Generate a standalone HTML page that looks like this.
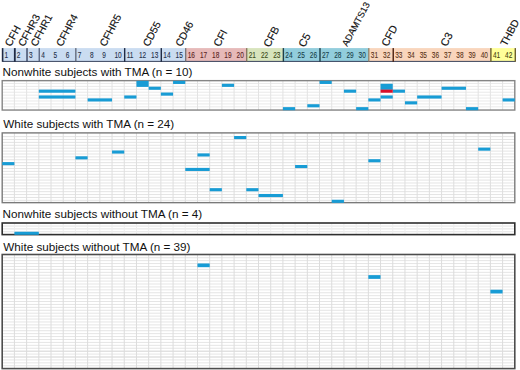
<!DOCTYPE html><html><head><meta charset="utf-8"><style>html,body{margin:0;padding:0;background:#fff;}svg{display:block;}text{font-family:"Liberation Sans",sans-serif;}</style></head><body>
<svg width="520" height="370" viewBox="0 0 520 370">
<rect x="0" y="0" width="520" height="370" fill="#fff"/>
<text class="lab" x="0" y="0" font-size="10.6" fill="#111" stroke="#111" stroke-width="0.15" transform="translate(10.8,47.3) rotate(-62)">CFH</text>
<text class="lab" x="0" y="0" font-size="10.4" fill="#111" stroke="#111" stroke-width="0.15" transform="translate(24.1,47.3) rotate(-62)">CFHR3</text>
<text class="lab" x="0" y="0" font-size="10.4" fill="#111" stroke="#111" stroke-width="0.15" transform="translate(36.4,47.2) rotate(-62)">CFHR1</text>
<text class="lab" x="0" y="0" font-size="10.4" fill="#111" stroke="#111" stroke-width="0.15" transform="translate(62.0,47.2) rotate(-62)">CFHR4</text>
<text class="lab" x="0" y="0" font-size="10.4" fill="#111" stroke="#111" stroke-width="0.15" transform="translate(105.4,47.2) rotate(-62)">CFHR5</text>
<text class="lab" x="0" y="0" font-size="10.4" fill="#111" stroke="#111" stroke-width="0.15" transform="translate(148.7,47.3) rotate(-62)">CD55</text>
<text class="lab" x="0" y="0" font-size="10.4" fill="#111" stroke="#111" stroke-width="0.15" transform="translate(181.3,47.3) rotate(-62)">CD46</text>
<text class="lab" x="0" y="0" font-size="10.8" fill="#111" stroke="#111" stroke-width="0.15" transform="translate(219.6,47.4) rotate(-62)">CFI</text>
<text class="lab" x="0" y="0" font-size="10.8" fill="#111" stroke="#111" stroke-width="0.15" transform="translate(269.5,47.9) rotate(-62)">CFB</text>
<text class="lab" x="0" y="0" font-size="10.8" fill="#111" stroke="#111" stroke-width="0.15" transform="translate(304.6,47.9) rotate(-62)">C5</text>
<text class="lab" x="0" y="0" font-size="9.2" fill="#111" stroke="#111" stroke-width="0.15" transform="translate(347.3,47.1) rotate(-62)">ADAMTS13</text>
<text class="lab" x="0" y="0" font-size="10.8" fill="#111" stroke="#111" stroke-width="0.15" transform="translate(387.4,47.2) rotate(-62)">CFD</text>
<text class="lab" x="0" y="0" font-size="10.8" fill="#111" stroke="#111" stroke-width="0.15" transform="translate(446.5,47.2) rotate(-62)">C3</text>
<text class="lab" x="0" y="0" font-size="10.4" fill="#111" stroke="#111" stroke-width="0.15" transform="translate(506.3,46.8) rotate(-62)">THBD</text>
<rect x="2.60" y="48.1" width="183.11" height="13.70" fill="#cadcf1"/>
<text x="0" y="0" font-size="8.6" fill="#25304a" stroke="#25304a" stroke-width="0.1" transform="translate(4.60,58.0) scale(0.76,1)">1</text>
<text x="0" y="0" font-size="8.6" fill="#25304a" stroke="#25304a" stroke-width="0.1" transform="translate(16.81,58.0) scale(0.76,1)">2</text>
<text x="0" y="0" font-size="8.6" fill="#25304a" stroke="#25304a" stroke-width="0.1" transform="translate(29.01,58.0) scale(0.76,1)">3</text>
<text x="0" y="0" font-size="8.6" fill="#25304a" stroke="#25304a" stroke-width="0.1" transform="translate(41.22,58.0) scale(0.76,1)">4</text>
<text x="0" y="0" font-size="8.6" fill="#25304a" stroke="#25304a" stroke-width="0.1" transform="translate(53.43,58.0) scale(0.76,1)">5</text>
<text x="0" y="0" font-size="8.6" fill="#25304a" stroke="#25304a" stroke-width="0.1" transform="translate(65.64,58.0) scale(0.76,1)">6</text>
<text x="0" y="0" font-size="8.6" fill="#25304a" stroke="#25304a" stroke-width="0.1" transform="translate(77.84,58.0) scale(0.76,1)">7</text>
<text x="0" y="0" font-size="8.6" fill="#25304a" stroke="#25304a" stroke-width="0.1" transform="translate(90.05,58.0) scale(0.76,1)">8</text>
<text x="0" y="0" font-size="8.6" fill="#25304a" stroke="#25304a" stroke-width="0.1" transform="translate(102.26,58.0) scale(0.76,1)">9</text>
<text x="0" y="0" font-size="8.6" fill="#25304a" stroke="#25304a" stroke-width="0.1" transform="translate(114.46,58.0) scale(0.76,1)">10</text>
<text x="0" y="0" font-size="8.6" fill="#25304a" stroke="#25304a" stroke-width="0.1" transform="translate(126.67,58.0) scale(0.76,1)">11</text>
<text x="0" y="0" font-size="8.6" fill="#25304a" stroke="#25304a" stroke-width="0.1" transform="translate(138.88,58.0) scale(0.76,1)">12</text>
<text x="0" y="0" font-size="8.6" fill="#25304a" stroke="#25304a" stroke-width="0.1" transform="translate(151.09,58.0) scale(0.76,1)">13</text>
<text x="0" y="0" font-size="8.6" fill="#25304a" stroke="#25304a" stroke-width="0.1" transform="translate(163.29,58.0) scale(0.76,1)">14</text>
<text x="0" y="0" font-size="8.6" fill="#25304a" stroke="#25304a" stroke-width="0.1" transform="translate(175.50,58.0) scale(0.76,1)">15</text>
<rect x="185.71" y="48.1" width="61.04" height="13.70" fill="#e6b9b8"/>
<text x="0" y="0" font-size="8.6" fill="#5a1f1f" stroke="#5a1f1f" stroke-width="0.1" transform="translate(187.71,58.0) scale(0.76,1)">16</text>
<text x="0" y="0" font-size="8.6" fill="#5a1f1f" stroke="#5a1f1f" stroke-width="0.1" transform="translate(199.91,58.0) scale(0.76,1)">17</text>
<text x="0" y="0" font-size="8.6" fill="#5a1f1f" stroke="#5a1f1f" stroke-width="0.1" transform="translate(212.12,58.0) scale(0.76,1)">18</text>
<text x="0" y="0" font-size="8.6" fill="#5a1f1f" stroke="#5a1f1f" stroke-width="0.1" transform="translate(224.33,58.0) scale(0.76,1)">19</text>
<text x="0" y="0" font-size="8.6" fill="#5a1f1f" stroke="#5a1f1f" stroke-width="0.1" transform="translate(236.54,58.0) scale(0.76,1)">20</text>
<rect x="246.74" y="48.1" width="36.62" height="13.70" fill="#d7e4bc"/>
<text x="0" y="0" font-size="8.6" fill="#3b4a17" stroke="#3b4a17" stroke-width="0.1" transform="translate(248.74,58.0) scale(0.76,1)">21</text>
<text x="0" y="0" font-size="8.6" fill="#3b4a17" stroke="#3b4a17" stroke-width="0.1" transform="translate(260.95,58.0) scale(0.76,1)">22</text>
<text x="0" y="0" font-size="8.6" fill="#3b4a17" stroke="#3b4a17" stroke-width="0.1" transform="translate(273.16,58.0) scale(0.76,1)">23</text>
<rect x="283.36" y="48.1" width="85.45" height="13.70" fill="#92cddc"/>
<text x="0" y="0" font-size="8.6" fill="#173f4a" stroke="#173f4a" stroke-width="0.1" transform="translate(285.36,58.0) scale(0.76,1)">24</text>
<text x="0" y="0" font-size="8.6" fill="#173f4a" stroke="#173f4a" stroke-width="0.1" transform="translate(297.57,58.0) scale(0.76,1)">25</text>
<text x="0" y="0" font-size="8.6" fill="#173f4a" stroke="#173f4a" stroke-width="0.1" transform="translate(309.78,58.0) scale(0.76,1)">26</text>
<text x="0" y="0" font-size="8.6" fill="#173f4a" stroke="#173f4a" stroke-width="0.1" transform="translate(321.99,58.0) scale(0.76,1)">27</text>
<text x="0" y="0" font-size="8.6" fill="#173f4a" stroke="#173f4a" stroke-width="0.1" transform="translate(334.19,58.0) scale(0.76,1)">28</text>
<text x="0" y="0" font-size="8.6" fill="#173f4a" stroke="#173f4a" stroke-width="0.1" transform="translate(346.40,58.0) scale(0.76,1)">29</text>
<text x="0" y="0" font-size="8.6" fill="#173f4a" stroke="#173f4a" stroke-width="0.1" transform="translate(358.61,58.0) scale(0.76,1)">30</text>
<rect x="368.81" y="48.1" width="122.07" height="13.70" fill="#f9d5bc"/>
<text x="0" y="0" font-size="8.6" fill="#5a3418" stroke="#5a3418" stroke-width="0.1" transform="translate(370.81,58.0) scale(0.76,1)">31</text>
<text x="0" y="0" font-size="8.6" fill="#5a3418" stroke="#5a3418" stroke-width="0.1" transform="translate(383.02,58.0) scale(0.76,1)">32</text>
<text x="0" y="0" font-size="8.6" fill="#5a3418" stroke="#5a3418" stroke-width="0.1" transform="translate(395.23,58.0) scale(0.76,1)">33</text>
<text x="0" y="0" font-size="8.6" fill="#5a3418" stroke="#5a3418" stroke-width="0.1" transform="translate(407.44,58.0) scale(0.76,1)">34</text>
<text x="0" y="0" font-size="8.6" fill="#5a3418" stroke="#5a3418" stroke-width="0.1" transform="translate(419.64,58.0) scale(0.76,1)">35</text>
<text x="0" y="0" font-size="8.6" fill="#5a3418" stroke="#5a3418" stroke-width="0.1" transform="translate(431.85,58.0) scale(0.76,1)">36</text>
<text x="0" y="0" font-size="8.6" fill="#5a3418" stroke="#5a3418" stroke-width="0.1" transform="translate(444.06,58.0) scale(0.76,1)">37</text>
<text x="0" y="0" font-size="8.6" fill="#5a3418" stroke="#5a3418" stroke-width="0.1" transform="translate(456.26,58.0) scale(0.76,1)">38</text>
<text x="0" y="0" font-size="8.6" fill="#5a3418" stroke="#5a3418" stroke-width="0.1" transform="translate(468.47,58.0) scale(0.76,1)">39</text>
<text x="0" y="0" font-size="8.6" fill="#5a3418" stroke="#5a3418" stroke-width="0.1" transform="translate(480.68,58.0) scale(0.76,1)">40</text>
<rect x="490.89" y="48.1" width="24.41" height="13.70" fill="#ffff99"/>
<text x="0" y="0" font-size="8.6" fill="#45450f" stroke="#45450f" stroke-width="0.1" transform="translate(492.89,58.0) scale(0.76,1)">41</text>
<text x="0" y="0" font-size="8.6" fill="#45450f" stroke="#45450f" stroke-width="0.1" transform="translate(505.09,58.0) scale(0.76,1)">42</text>
<rect x="2.60" y="60.90" width="512.70" height="1" fill="#3c4660"/>
<rect x="1.80" y="48.1" width="1.6" height="13.70" fill="#1f2a44"/>
<rect x="13.91" y="48.1" width="1.8" height="13.70" fill="#1f2a44"/>
<rect x="26.31" y="48.1" width="1.4" height="13.70" fill="#3a4662"/>
<rect x="38.62" y="48.1" width="1.2" height="13.70" fill="#4a5672"/>
<rect x="75.24" y="48.1" width="1.2" height="13.70" fill="#555b6a"/>
<rect x="123.97" y="48.1" width="1.4" height="13.70" fill="#1f2a44"/>
<rect x="160.59" y="48.1" width="1.4" height="13.70" fill="#1f2a44"/>
<rect x="185.11" y="48.1" width="1.2" height="13.70" fill="#6b6b6b"/>
<rect x="246.14" y="48.1" width="1.2" height="13.70" fill="#7a6a50"/>
<rect x="282.66" y="48.1" width="1.4" height="13.70" fill="#1f3f4a"/>
<rect x="319.29" y="48.1" width="1.4" height="13.70" fill="#1f3f4a"/>
<rect x="368.21" y="48.1" width="1.2" height="13.70" fill="#8a7a60"/>
<rect x="392.53" y="48.1" width="1.4" height="13.70" fill="#4a2010"/>
<rect x="490.19" y="48.1" width="1.4" height="13.70" fill="#6b6030"/>
<rect x="514.60" y="48.1" width="1.4" height="13.70" fill="#6b6030"/>
<text x="2.6" y="75.7" font-size="11.7" fill="#111">Nonwhite subjects with TMA (n = 10)</text>
<rect x="2.20" y="82.97" width="512.60" height="1" fill="#eaeaea"/>
<rect x="2.20" y="85.89" width="512.60" height="1" fill="#eaeaea"/>
<rect x="2.20" y="88.81" width="512.60" height="1" fill="#eaeaea"/>
<rect x="2.20" y="91.73" width="512.60" height="1" fill="#eaeaea"/>
<rect x="2.20" y="94.65" width="512.60" height="1" fill="#eaeaea"/>
<rect x="2.20" y="97.57" width="512.60" height="1" fill="#eaeaea"/>
<rect x="2.20" y="100.49" width="512.60" height="1" fill="#eaeaea"/>
<rect x="2.20" y="103.41" width="512.60" height="1" fill="#eaeaea"/>
<rect x="2.20" y="106.33" width="512.60" height="1" fill="#eaeaea"/>
<rect x="13.90" y="80.85" width="1" height="29.20" fill="#e3e3e3"/>
<rect x="26.11" y="80.85" width="1" height="29.20" fill="#e3e3e3"/>
<rect x="38.31" y="80.85" width="1" height="29.20" fill="#e3e3e3"/>
<rect x="50.52" y="80.85" width="1" height="29.20" fill="#e3e3e3"/>
<rect x="62.72" y="80.85" width="1" height="29.20" fill="#e3e3e3"/>
<rect x="74.93" y="80.85" width="1" height="29.20" fill="#e3e3e3"/>
<rect x="87.13" y="80.85" width="1" height="29.20" fill="#e3e3e3"/>
<rect x="99.34" y="80.85" width="1" height="29.20" fill="#e3e3e3"/>
<rect x="111.54" y="80.85" width="1" height="29.20" fill="#e3e3e3"/>
<rect x="123.75" y="80.85" width="1" height="29.20" fill="#e3e3e3"/>
<rect x="135.95" y="80.85" width="1" height="29.20" fill="#e3e3e3"/>
<rect x="148.16" y="80.85" width="1" height="29.20" fill="#e3e3e3"/>
<rect x="160.36" y="80.85" width="1" height="29.20" fill="#e3e3e3"/>
<rect x="172.57" y="80.85" width="1" height="29.20" fill="#e3e3e3"/>
<rect x="184.77" y="80.85" width="1" height="29.20" fill="#e3e3e3"/>
<rect x="196.98" y="80.85" width="1" height="29.20" fill="#e3e3e3"/>
<rect x="209.18" y="80.85" width="1" height="29.20" fill="#e3e3e3"/>
<rect x="221.39" y="80.85" width="1" height="29.20" fill="#e3e3e3"/>
<rect x="233.59" y="80.85" width="1" height="29.20" fill="#e3e3e3"/>
<rect x="245.80" y="80.85" width="1" height="29.20" fill="#e3e3e3"/>
<rect x="258.00" y="80.85" width="1" height="29.20" fill="#e3e3e3"/>
<rect x="270.20" y="80.85" width="1" height="29.20" fill="#e3e3e3"/>
<rect x="282.41" y="80.85" width="1" height="29.20" fill="#e3e3e3"/>
<rect x="294.61" y="80.85" width="1" height="29.20" fill="#e3e3e3"/>
<rect x="306.82" y="80.85" width="1" height="29.20" fill="#e3e3e3"/>
<rect x="319.02" y="80.85" width="1" height="29.20" fill="#e3e3e3"/>
<rect x="331.23" y="80.85" width="1" height="29.20" fill="#e3e3e3"/>
<rect x="343.43" y="80.85" width="1" height="29.20" fill="#e3e3e3"/>
<rect x="355.64" y="80.85" width="1" height="29.20" fill="#e3e3e3"/>
<rect x="367.84" y="80.85" width="1" height="29.20" fill="#e3e3e3"/>
<rect x="380.05" y="80.85" width="1" height="29.20" fill="#e3e3e3"/>
<rect x="392.25" y="80.85" width="1" height="29.20" fill="#e3e3e3"/>
<rect x="404.46" y="80.85" width="1" height="29.20" fill="#e3e3e3"/>
<rect x="416.66" y="80.85" width="1" height="29.20" fill="#e3e3e3"/>
<rect x="428.87" y="80.85" width="1" height="29.20" fill="#e3e3e3"/>
<rect x="441.07" y="80.85" width="1" height="29.20" fill="#e3e3e3"/>
<rect x="453.28" y="80.85" width="1" height="29.20" fill="#e3e3e3"/>
<rect x="465.48" y="80.85" width="1" height="29.20" fill="#e3e3e3"/>
<rect x="477.69" y="80.85" width="1" height="29.20" fill="#e3e3e3"/>
<rect x="489.89" y="80.85" width="1" height="29.20" fill="#e3e3e3"/>
<rect x="502.10" y="80.85" width="1" height="29.20" fill="#e3e3e3"/>
<rect x="2.20" y="80.65" width="512.60" height="29.40" fill="none" stroke="#858585" stroke-width="1.4"/>
<rect x="136.45" y="80.85" width="12.20" height="6.04" fill="#189cd5"/>
<rect x="173.07" y="80.85" width="12.20" height="3.12" fill="#189cd5"/>
<rect x="319.52" y="80.85" width="12.20" height="3.12" fill="#189cd5"/>
<rect x="221.89" y="83.77" width="12.20" height="3.12" fill="#189cd5"/>
<rect x="380.55" y="83.77" width="12.20" height="6.04" fill="#189cd5"/>
<rect x="380.55" y="95.45" width="12.20" height="3.12" fill="#189cd5"/>
<rect x="148.66" y="86.69" width="12.20" height="3.12" fill="#189cd5"/>
<rect x="441.57" y="86.69" width="24.41" height="3.12" fill="#189cd5"/>
<rect x="38.81" y="89.61" width="36.61" height="3.12" fill="#189cd5"/>
<rect x="38.81" y="95.45" width="36.61" height="3.12" fill="#189cd5"/>
<rect x="343.93" y="89.61" width="12.20" height="3.12" fill="#189cd5"/>
<rect x="392.75" y="89.61" width="12.20" height="3.12" fill="#189cd5"/>
<rect x="160.86" y="92.53" width="12.20" height="3.12" fill="#189cd5"/>
<rect x="124.25" y="95.45" width="12.20" height="3.12" fill="#189cd5"/>
<rect x="417.16" y="95.45" width="24.41" height="3.12" fill="#189cd5"/>
<rect x="87.63" y="98.37" width="24.41" height="3.12" fill="#189cd5"/>
<rect x="368.34" y="98.37" width="12.20" height="3.12" fill="#189cd5"/>
<rect x="502.60" y="98.37" width="12.20" height="3.12" fill="#189cd5"/>
<rect x="404.96" y="101.29" width="12.20" height="3.12" fill="#189cd5"/>
<rect x="307.32" y="104.21" width="12.20" height="3.12" fill="#189cd5"/>
<rect x="282.91" y="107.13" width="12.20" height="3.12" fill="#189cd5"/>
<rect x="356.14" y="107.13" width="12.20" height="3.12" fill="#189cd5"/>
<rect x="465.98" y="107.13" width="12.20" height="3.12" fill="#189cd5"/>
<rect x="380.55" y="89.61" width="12.20" height="3.12" fill="#d8102a"/>
<text x="3.3" y="128.0" font-size="11.7" fill="#111">White subjects with TMA (n = 24)</text>
<rect x="2.20" y="136.10" width="512.60" height="1" fill="#e4e4e4"/>
<rect x="2.20" y="139.00" width="512.60" height="1" fill="#e4e4e4"/>
<rect x="2.20" y="141.89" width="512.60" height="1" fill="#e4e4e4"/>
<rect x="2.20" y="144.79" width="512.60" height="1" fill="#e4e4e4"/>
<rect x="2.20" y="147.69" width="512.60" height="1" fill="#e4e4e4"/>
<rect x="2.20" y="150.59" width="512.60" height="1" fill="#e4e4e4"/>
<rect x="2.20" y="153.49" width="512.60" height="1" fill="#e4e4e4"/>
<rect x="2.20" y="156.38" width="512.60" height="1" fill="#e4e4e4"/>
<rect x="2.20" y="159.28" width="512.60" height="1" fill="#e4e4e4"/>
<rect x="2.20" y="162.18" width="512.60" height="1" fill="#e4e4e4"/>
<rect x="2.20" y="165.08" width="512.60" height="1" fill="#e4e4e4"/>
<rect x="2.20" y="167.98" width="512.60" height="1" fill="#e4e4e4"/>
<rect x="2.20" y="170.87" width="512.60" height="1" fill="#e4e4e4"/>
<rect x="2.20" y="173.77" width="512.60" height="1" fill="#e4e4e4"/>
<rect x="2.20" y="176.67" width="512.60" height="1" fill="#e4e4e4"/>
<rect x="2.20" y="179.57" width="512.60" height="1" fill="#e4e4e4"/>
<rect x="2.20" y="182.47" width="512.60" height="1" fill="#e4e4e4"/>
<rect x="2.20" y="185.36" width="512.60" height="1" fill="#e4e4e4"/>
<rect x="2.20" y="188.26" width="512.60" height="1" fill="#e4e4e4"/>
<rect x="2.20" y="191.16" width="512.60" height="1" fill="#e4e4e4"/>
<rect x="2.20" y="194.06" width="512.60" height="1" fill="#e4e4e4"/>
<rect x="2.20" y="196.96" width="512.60" height="1" fill="#e4e4e4"/>
<rect x="2.20" y="199.85" width="512.60" height="1" fill="#e4e4e4"/>
<rect x="13.90" y="133.10" width="1" height="69.55" fill="#dedede"/>
<rect x="26.11" y="133.10" width="1" height="69.55" fill="#dedede"/>
<rect x="38.31" y="133.10" width="1" height="69.55" fill="#dedede"/>
<rect x="50.52" y="133.10" width="1" height="69.55" fill="#dedede"/>
<rect x="62.72" y="133.10" width="1" height="69.55" fill="#dedede"/>
<rect x="74.93" y="133.10" width="1" height="69.55" fill="#dedede"/>
<rect x="87.13" y="133.10" width="1" height="69.55" fill="#dedede"/>
<rect x="99.34" y="133.10" width="1" height="69.55" fill="#dedede"/>
<rect x="111.54" y="133.10" width="1" height="69.55" fill="#dedede"/>
<rect x="123.75" y="133.10" width="1" height="69.55" fill="#dedede"/>
<rect x="135.95" y="133.10" width="1" height="69.55" fill="#dedede"/>
<rect x="148.16" y="133.10" width="1" height="69.55" fill="#dedede"/>
<rect x="160.36" y="133.10" width="1" height="69.55" fill="#dedede"/>
<rect x="172.57" y="133.10" width="1" height="69.55" fill="#dedede"/>
<rect x="184.77" y="133.10" width="1" height="69.55" fill="#dedede"/>
<rect x="196.98" y="133.10" width="1" height="69.55" fill="#dedede"/>
<rect x="209.18" y="133.10" width="1" height="69.55" fill="#dedede"/>
<rect x="221.39" y="133.10" width="1" height="69.55" fill="#dedede"/>
<rect x="233.59" y="133.10" width="1" height="69.55" fill="#dedede"/>
<rect x="245.80" y="133.10" width="1" height="69.55" fill="#dedede"/>
<rect x="258.00" y="133.10" width="1" height="69.55" fill="#dedede"/>
<rect x="270.20" y="133.10" width="1" height="69.55" fill="#dedede"/>
<rect x="282.41" y="133.10" width="1" height="69.55" fill="#dedede"/>
<rect x="294.61" y="133.10" width="1" height="69.55" fill="#dedede"/>
<rect x="306.82" y="133.10" width="1" height="69.55" fill="#dedede"/>
<rect x="319.02" y="133.10" width="1" height="69.55" fill="#dedede"/>
<rect x="331.23" y="133.10" width="1" height="69.55" fill="#dedede"/>
<rect x="343.43" y="133.10" width="1" height="69.55" fill="#dedede"/>
<rect x="355.64" y="133.10" width="1" height="69.55" fill="#dedede"/>
<rect x="367.84" y="133.10" width="1" height="69.55" fill="#dedede"/>
<rect x="380.05" y="133.10" width="1" height="69.55" fill="#dedede"/>
<rect x="392.25" y="133.10" width="1" height="69.55" fill="#dedede"/>
<rect x="404.46" y="133.10" width="1" height="69.55" fill="#dedede"/>
<rect x="416.66" y="133.10" width="1" height="69.55" fill="#dedede"/>
<rect x="428.87" y="133.10" width="1" height="69.55" fill="#dedede"/>
<rect x="441.07" y="133.10" width="1" height="69.55" fill="#dedede"/>
<rect x="453.28" y="133.10" width="1" height="69.55" fill="#dedede"/>
<rect x="465.48" y="133.10" width="1" height="69.55" fill="#dedede"/>
<rect x="477.69" y="133.10" width="1" height="69.55" fill="#dedede"/>
<rect x="489.89" y="133.10" width="1" height="69.55" fill="#dedede"/>
<rect x="502.10" y="133.10" width="1" height="69.55" fill="#dedede"/>
<rect x="2.20" y="132.90" width="512.60" height="69.75" fill="none" stroke="#7a7a7a" stroke-width="1.4"/>
<rect x="234.09" y="136.00" width="12.20" height="3.10" fill="#189cd5"/>
<rect x="478.19" y="147.59" width="12.20" height="3.10" fill="#189cd5"/>
<rect x="112.04" y="150.49" width="12.20" height="3.10" fill="#189cd5"/>
<rect x="197.48" y="153.39" width="12.20" height="3.10" fill="#189cd5"/>
<rect x="75.43" y="156.28" width="12.20" height="3.10" fill="#189cd5"/>
<rect x="368.34" y="159.18" width="12.20" height="3.10" fill="#189cd5"/>
<rect x="2.20" y="162.08" width="12.20" height="3.10" fill="#189cd5"/>
<rect x="295.11" y="164.98" width="12.20" height="3.10" fill="#189cd5"/>
<rect x="185.27" y="167.88" width="24.41" height="3.10" fill="#189cd5"/>
<rect x="209.68" y="188.16" width="12.20" height="3.10" fill="#189cd5"/>
<rect x="246.30" y="188.16" width="12.20" height="3.10" fill="#189cd5"/>
<rect x="258.50" y="193.96" width="24.41" height="3.10" fill="#189cd5"/>
<rect x="331.73" y="199.75" width="12.20" height="3.10" fill="#189cd5"/>
<text x="2.6" y="217.7" font-size="11.7" fill="#111">Nonwhite subjects without TMA (n = 4)</text>
<rect x="2.20" y="225.55" width="512.60" height="1" fill="#e3e3e3"/>
<rect x="2.20" y="228.40" width="512.60" height="1" fill="#e3e3e3"/>
<rect x="2.20" y="231.25" width="512.60" height="1" fill="#e3e3e3"/>
<rect x="13.90" y="223.20" width="1" height="11.40" fill="#eeeeee"/>
<rect x="26.11" y="223.20" width="1" height="11.40" fill="#eeeeee"/>
<rect x="38.31" y="223.20" width="1" height="11.40" fill="#eeeeee"/>
<rect x="50.52" y="223.20" width="1" height="11.40" fill="#eeeeee"/>
<rect x="62.72" y="223.20" width="1" height="11.40" fill="#eeeeee"/>
<rect x="74.93" y="223.20" width="1" height="11.40" fill="#eeeeee"/>
<rect x="87.13" y="223.20" width="1" height="11.40" fill="#eeeeee"/>
<rect x="99.34" y="223.20" width="1" height="11.40" fill="#eeeeee"/>
<rect x="111.54" y="223.20" width="1" height="11.40" fill="#eeeeee"/>
<rect x="123.75" y="223.20" width="1" height="11.40" fill="#eeeeee"/>
<rect x="135.95" y="223.20" width="1" height="11.40" fill="#eeeeee"/>
<rect x="148.16" y="223.20" width="1" height="11.40" fill="#eeeeee"/>
<rect x="160.36" y="223.20" width="1" height="11.40" fill="#eeeeee"/>
<rect x="172.57" y="223.20" width="1" height="11.40" fill="#eeeeee"/>
<rect x="184.77" y="223.20" width="1" height="11.40" fill="#eeeeee"/>
<rect x="196.98" y="223.20" width="1" height="11.40" fill="#eeeeee"/>
<rect x="209.18" y="223.20" width="1" height="11.40" fill="#eeeeee"/>
<rect x="221.39" y="223.20" width="1" height="11.40" fill="#eeeeee"/>
<rect x="233.59" y="223.20" width="1" height="11.40" fill="#eeeeee"/>
<rect x="245.80" y="223.20" width="1" height="11.40" fill="#eeeeee"/>
<rect x="258.00" y="223.20" width="1" height="11.40" fill="#eeeeee"/>
<rect x="270.20" y="223.20" width="1" height="11.40" fill="#eeeeee"/>
<rect x="282.41" y="223.20" width="1" height="11.40" fill="#eeeeee"/>
<rect x="294.61" y="223.20" width="1" height="11.40" fill="#eeeeee"/>
<rect x="306.82" y="223.20" width="1" height="11.40" fill="#eeeeee"/>
<rect x="319.02" y="223.20" width="1" height="11.40" fill="#eeeeee"/>
<rect x="331.23" y="223.20" width="1" height="11.40" fill="#eeeeee"/>
<rect x="343.43" y="223.20" width="1" height="11.40" fill="#eeeeee"/>
<rect x="355.64" y="223.20" width="1" height="11.40" fill="#eeeeee"/>
<rect x="367.84" y="223.20" width="1" height="11.40" fill="#eeeeee"/>
<rect x="380.05" y="223.20" width="1" height="11.40" fill="#eeeeee"/>
<rect x="392.25" y="223.20" width="1" height="11.40" fill="#eeeeee"/>
<rect x="404.46" y="223.20" width="1" height="11.40" fill="#eeeeee"/>
<rect x="416.66" y="223.20" width="1" height="11.40" fill="#eeeeee"/>
<rect x="428.87" y="223.20" width="1" height="11.40" fill="#eeeeee"/>
<rect x="441.07" y="223.20" width="1" height="11.40" fill="#eeeeee"/>
<rect x="453.28" y="223.20" width="1" height="11.40" fill="#eeeeee"/>
<rect x="465.48" y="223.20" width="1" height="11.40" fill="#eeeeee"/>
<rect x="477.69" y="223.20" width="1" height="11.40" fill="#eeeeee"/>
<rect x="489.89" y="223.20" width="1" height="11.40" fill="#eeeeee"/>
<rect x="502.10" y="223.20" width="1" height="11.40" fill="#eeeeee"/>
<rect x="2.20" y="223.00" width="512.60" height="11.60" fill="none" stroke="#2e2e2e" stroke-width="1.6"/>
<rect x="14.40" y="231.75" width="24.41" height="3.05" fill="#189cd5"/>
<text x="3.3" y="251.2" font-size="11.7" fill="#111">White subjects without TMA (n = 39)</text>
<rect x="2.20" y="257.22" width="512.60" height="1" fill="#e5e5e5"/>
<rect x="2.20" y="260.14" width="512.60" height="1" fill="#e5e5e5"/>
<rect x="2.20" y="263.06" width="512.60" height="1" fill="#e5e5e5"/>
<rect x="2.20" y="265.98" width="512.60" height="1" fill="#e5e5e5"/>
<rect x="2.20" y="268.90" width="512.60" height="1" fill="#e5e5e5"/>
<rect x="2.20" y="271.82" width="512.60" height="1" fill="#e5e5e5"/>
<rect x="2.20" y="274.74" width="512.60" height="1" fill="#e5e5e5"/>
<rect x="2.20" y="277.66" width="512.60" height="1" fill="#e5e5e5"/>
<rect x="2.20" y="280.58" width="512.60" height="1" fill="#e5e5e5"/>
<rect x="2.20" y="283.50" width="512.60" height="1" fill="#e5e5e5"/>
<rect x="2.20" y="286.42" width="512.60" height="1" fill="#e5e5e5"/>
<rect x="2.20" y="289.34" width="512.60" height="1" fill="#e5e5e5"/>
<rect x="2.20" y="292.26" width="512.60" height="1" fill="#e5e5e5"/>
<rect x="2.20" y="295.18" width="512.60" height="1" fill="#e5e5e5"/>
<rect x="2.20" y="298.10" width="512.60" height="1" fill="#e5e5e5"/>
<rect x="2.20" y="301.02" width="512.60" height="1" fill="#e5e5e5"/>
<rect x="2.20" y="303.94" width="512.60" height="1" fill="#e5e5e5"/>
<rect x="2.20" y="306.86" width="512.60" height="1" fill="#e5e5e5"/>
<rect x="2.20" y="309.78" width="512.60" height="1" fill="#e5e5e5"/>
<rect x="2.20" y="312.70" width="512.60" height="1" fill="#e5e5e5"/>
<rect x="2.20" y="315.62" width="512.60" height="1" fill="#e5e5e5"/>
<rect x="2.20" y="318.54" width="512.60" height="1" fill="#e5e5e5"/>
<rect x="2.20" y="321.46" width="512.60" height="1" fill="#e5e5e5"/>
<rect x="2.20" y="324.38" width="512.60" height="1" fill="#e5e5e5"/>
<rect x="2.20" y="327.30" width="512.60" height="1" fill="#e5e5e5"/>
<rect x="2.20" y="330.22" width="512.60" height="1" fill="#e5e5e5"/>
<rect x="2.20" y="333.14" width="512.60" height="1" fill="#e5e5e5"/>
<rect x="2.20" y="336.06" width="512.60" height="1" fill="#e5e5e5"/>
<rect x="2.20" y="338.98" width="512.60" height="1" fill="#e5e5e5"/>
<rect x="2.20" y="341.90" width="512.60" height="1" fill="#e5e5e5"/>
<rect x="2.20" y="344.82" width="512.60" height="1" fill="#e5e5e5"/>
<rect x="2.20" y="347.74" width="512.60" height="1" fill="#e5e5e5"/>
<rect x="2.20" y="350.66" width="512.60" height="1" fill="#d2d2d2"/>
<rect x="2.20" y="353.58" width="512.60" height="1" fill="#e5e5e5"/>
<rect x="2.20" y="356.50" width="512.60" height="1" fill="#d2d2d2"/>
<rect x="2.20" y="359.42" width="512.60" height="1" fill="#e5e5e5"/>
<rect x="2.20" y="362.34" width="512.60" height="1" fill="#e5e5e5"/>
<rect x="2.20" y="365.26" width="512.60" height="1" fill="#e5e5e5"/>
<rect x="13.90" y="254.70" width="1" height="113.88" fill="#dcdcdc"/>
<rect x="26.11" y="254.70" width="1" height="113.88" fill="#dcdcdc"/>
<rect x="38.31" y="254.70" width="1" height="113.88" fill="#dcdcdc"/>
<rect x="50.52" y="254.70" width="1" height="113.88" fill="#dcdcdc"/>
<rect x="62.72" y="254.70" width="1" height="113.88" fill="#dcdcdc"/>
<rect x="74.93" y="254.70" width="1" height="113.88" fill="#dcdcdc"/>
<rect x="87.13" y="254.70" width="1" height="113.88" fill="#dcdcdc"/>
<rect x="99.34" y="254.70" width="1" height="113.88" fill="#dcdcdc"/>
<rect x="111.54" y="254.70" width="1" height="113.88" fill="#dcdcdc"/>
<rect x="123.75" y="254.70" width="1" height="113.88" fill="#dcdcdc"/>
<rect x="135.95" y="254.70" width="1" height="113.88" fill="#dcdcdc"/>
<rect x="148.16" y="254.70" width="1" height="113.88" fill="#dcdcdc"/>
<rect x="160.36" y="254.70" width="1" height="113.88" fill="#dcdcdc"/>
<rect x="172.57" y="254.70" width="1" height="113.88" fill="#dcdcdc"/>
<rect x="184.77" y="254.70" width="1" height="113.88" fill="#dcdcdc"/>
<rect x="196.98" y="254.70" width="1" height="113.88" fill="#dcdcdc"/>
<rect x="209.18" y="254.70" width="1" height="113.88" fill="#dcdcdc"/>
<rect x="221.39" y="254.70" width="1" height="113.88" fill="#dcdcdc"/>
<rect x="233.59" y="254.70" width="1" height="113.88" fill="#dcdcdc"/>
<rect x="245.80" y="254.70" width="1" height="113.88" fill="#dcdcdc"/>
<rect x="258.00" y="254.70" width="1" height="113.88" fill="#dcdcdc"/>
<rect x="270.20" y="254.70" width="1" height="113.88" fill="#dcdcdc"/>
<rect x="282.41" y="254.70" width="1" height="113.88" fill="#dcdcdc"/>
<rect x="294.61" y="254.70" width="1" height="113.88" fill="#dcdcdc"/>
<rect x="306.82" y="254.70" width="1" height="113.88" fill="#dcdcdc"/>
<rect x="319.02" y="254.70" width="1" height="113.88" fill="#dcdcdc"/>
<rect x="331.23" y="254.70" width="1" height="113.88" fill="#dcdcdc"/>
<rect x="343.43" y="254.70" width="1" height="113.88" fill="#dcdcdc"/>
<rect x="355.64" y="254.70" width="1" height="113.88" fill="#dcdcdc"/>
<rect x="367.84" y="254.70" width="1" height="113.88" fill="#dcdcdc"/>
<rect x="380.05" y="254.70" width="1" height="113.88" fill="#dcdcdc"/>
<rect x="392.25" y="254.70" width="1" height="113.88" fill="#dcdcdc"/>
<rect x="404.46" y="254.70" width="1" height="113.88" fill="#dcdcdc"/>
<rect x="416.66" y="254.70" width="1" height="113.88" fill="#dcdcdc"/>
<rect x="428.87" y="254.70" width="1" height="113.88" fill="#dcdcdc"/>
<rect x="441.07" y="254.70" width="1" height="113.88" fill="#dcdcdc"/>
<rect x="453.28" y="254.70" width="1" height="113.88" fill="#dcdcdc"/>
<rect x="465.48" y="254.70" width="1" height="113.88" fill="#dcdcdc"/>
<rect x="477.69" y="254.70" width="1" height="113.88" fill="#dcdcdc"/>
<rect x="489.89" y="254.70" width="1" height="113.88" fill="#dcdcdc"/>
<rect x="502.10" y="254.70" width="1" height="113.88" fill="#dcdcdc"/>
<rect x="2.20" y="254.50" width="512.60" height="114.08" fill="none" stroke="#4d4d4d" stroke-width="1.6"/>
<rect x="197.48" y="263.46" width="12.20" height="3.72" fill="#189cd5"/>
<rect x="368.34" y="275.14" width="12.20" height="3.72" fill="#189cd5"/>
<rect x="490.39" y="289.74" width="12.20" height="3.72" fill="#189cd5"/>
</svg></body></html>
